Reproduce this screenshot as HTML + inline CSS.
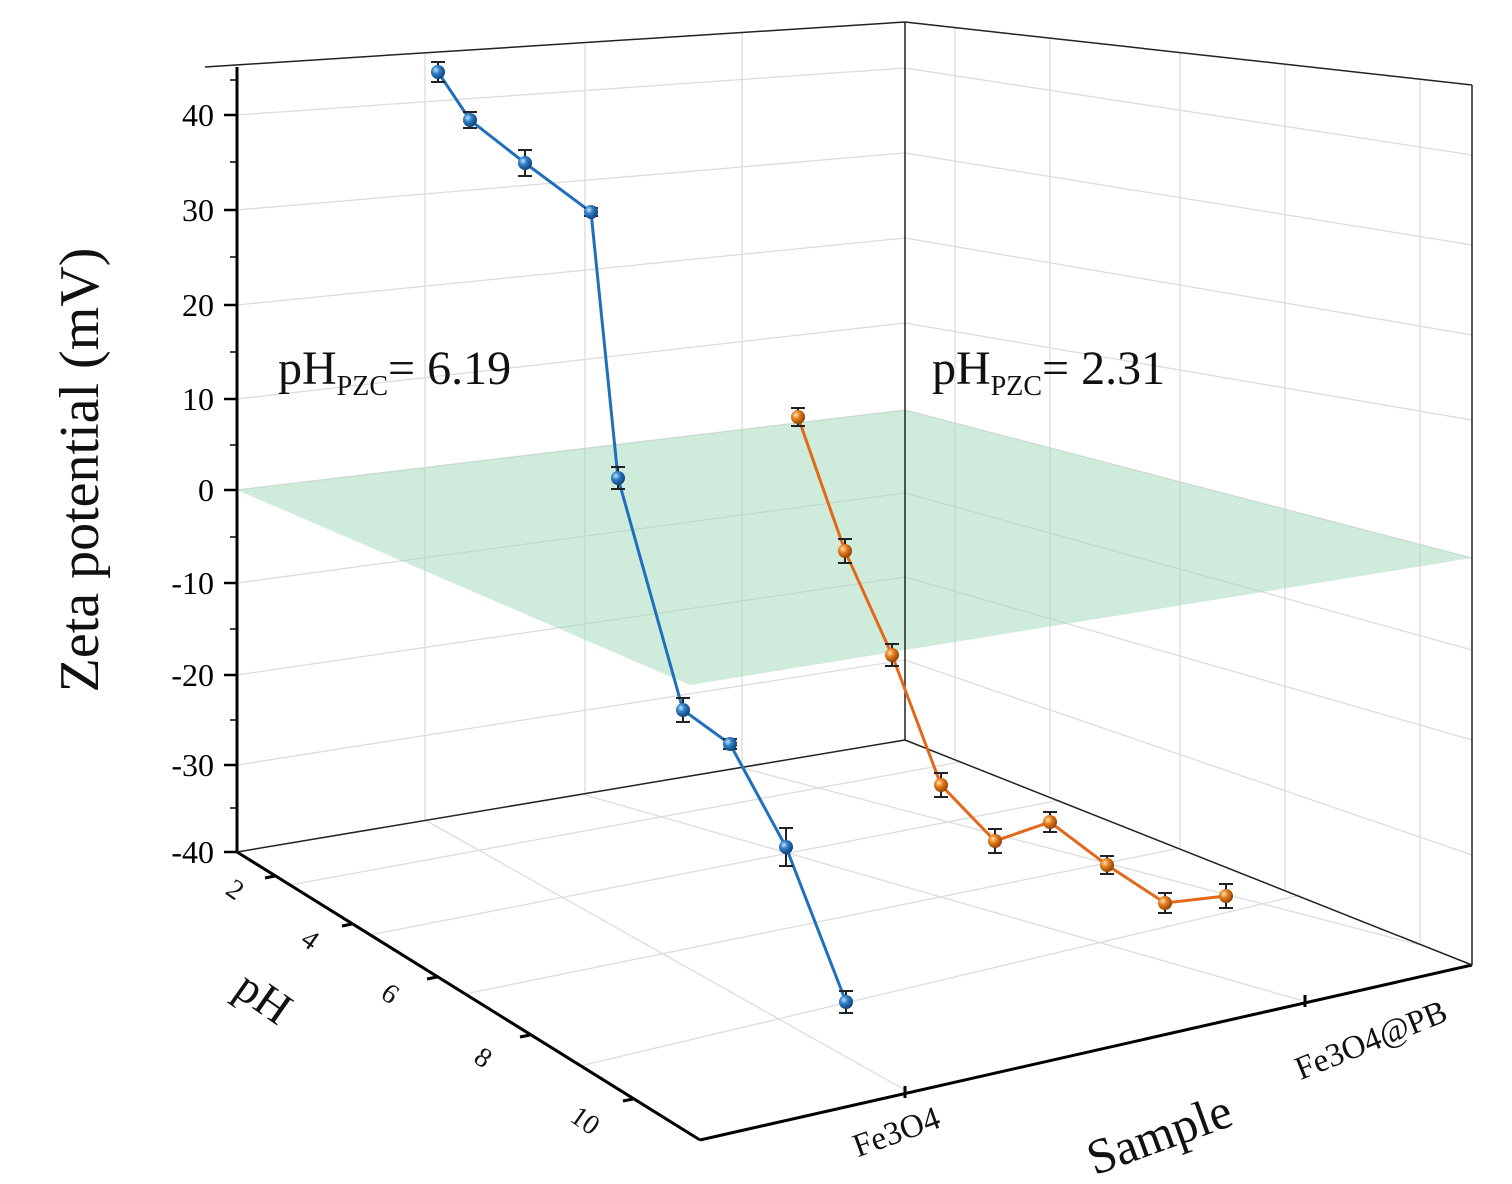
<!DOCTYPE html>
<html><head><meta charset="utf-8"><style>html,body{margin:0;padding:0;background:#fff}svg{display:block}</style></head>
<body>
<svg width="1512" height="1184" viewBox="0 0 1512 1184" xmlns="http://www.w3.org/2000/svg" font-family="Liberation Serif, serif">
<defs>
<radialGradient id="bg" cx="0.35" cy="0.35" r="0.7"><stop offset="0" stop-color="#bfe3ff"/><stop offset="0.4" stop-color="#2f7fc4"/><stop offset="1" stop-color="#0d3f77"/></radialGradient>
<radialGradient id="og" cx="0.35" cy="0.35" r="0.7"><stop offset="0" stop-color="#ffe2b8"/><stop offset="0.4" stop-color="#e8801e"/><stop offset="1" stop-color="#8a3f06"/></radialGradient>
</defs>
<g stroke="#dcdcdc" stroke-width="1.3" fill="none">
<line x1="237" y1="115" x2="905" y2="68"/>
<line x1="237" y1="210" x2="905" y2="153"/>
<line x1="237" y1="305" x2="905" y2="238"/>
<line x1="237" y1="399" x2="905" y2="323"/>
<line x1="237" y1="490" x2="905" y2="410"/>
<line x1="237" y1="583" x2="905" y2="493"/>
<line x1="237" y1="675" x2="905" y2="577"/>
<line x1="237" y1="765" x2="905" y2="660"/>
<line x1="425" y1="54" x2="425" y2="820"/>
<line x1="585" y1="44" x2="585" y2="795"/>
<line x1="742" y1="33" x2="742" y2="768"/>
<line x1="905" y1="68" x2="1472" y2="155"/>
<line x1="905" y1="153" x2="1472" y2="245"/>
<line x1="905" y1="238" x2="1472" y2="335"/>
<line x1="905" y1="323" x2="1472" y2="420"/>
<line x1="905" y1="410" x2="1472" y2="558"/>
<line x1="905" y1="493" x2="1472" y2="650"/>
<line x1="905" y1="577" x2="1472" y2="740"/>
<line x1="905" y1="660" x2="1472" y2="855"/>
<line x1="955" y1="28" x2="955" y2="758"/>
<line x1="1050" y1="38" x2="1050" y2="795"/>
<line x1="1180" y1="52" x2="1180" y2="847"/>
<line x1="1285" y1="63" x2="1285" y2="890"/>
<line x1="1420" y1="78" x2="1420" y2="943"/>
<line x1="290" y1="885" x2="960" y2="762"/>
<line x1="370" y1="935" x2="1060" y2="800"/>
<line x1="465" y1="994" x2="1180" y2="848"/>
<line x1="580" y1="1066" x2="1300" y2="895"/>
<line x1="425" y1="820" x2="905" y2="1090"/>
<line x1="585" y1="795" x2="1300" y2="1000"/>
<line x1="742" y1="768" x2="1420" y2="945"/>
</g>
<polygon points="237,490 905,410 1472,558 690,685" fill="#9fd8b8" fill-opacity="0.5"/>
<g stroke="#000" stroke-width="3" fill="none">
<line x1="237" y1="67" x2="237" y2="853"/>
<line x1="237" y1="852" x2="700" y2="1140"/>
<line x1="700" y1="1140" x2="1472" y2="965"/>
</g>
<g stroke="#222" stroke-width="1.5" fill="none">
<line x1="205" y1="67" x2="905" y2="22"/>
<line x1="905" y1="22" x2="1472" y2="85"/>
<line x1="905" y1="22" x2="905" y2="740"/>
<line x1="1472" y1="85" x2="1472" y2="965"/>
<line x1="237" y1="852" x2="905" y2="740"/>
<line x1="905" y1="740" x2="1472" y2="965"/>
</g>
<g stroke="#000" stroke-width="2.5">
<line x1="224" y1="115" x2="237" y2="115"/><line x1="224" y1="210" x2="237" y2="210"/><line x1="224" y1="305" x2="237" y2="305"/><line x1="224" y1="399" x2="237" y2="399"/><line x1="224" y1="490" x2="237" y2="490"/><line x1="224" y1="583" x2="237" y2="583"/><line x1="224" y1="675" x2="237" y2="675"/><line x1="224" y1="765" x2="237" y2="765"/><line x1="224" y1="852" x2="237" y2="852"/>
</g>
<g stroke="#000" stroke-width="1.5">
<line x1="230" y1="162" x2="237" y2="162"/><line x1="230" y1="257" x2="237" y2="257"/><line x1="230" y1="352" x2="237" y2="352"/><line x1="230" y1="445" x2="237" y2="445"/><line x1="230" y1="537" x2="237" y2="537"/><line x1="230" y1="629" x2="237" y2="629"/><line x1="230" y1="720" x2="237" y2="720"/><line x1="230" y1="808" x2="237" y2="808"/><line x1="230" y1="80" x2="237" y2="80"/>
</g>
<g font-size="32" text-anchor="end" fill="#000">
<text x="214" y="126">40</text><text x="214" y="221">30</text><text x="214" y="316">20</text><text x="214" y="410">10</text><text x="214" y="501">0</text><text x="214" y="594">-10</text><text x="214" y="686">-20</text><text x="214" y="776">-30</text><text x="214" y="863">-40</text>
</g>
<text transform="translate(98,470) rotate(-90)" font-size="56" text-anchor="middle" fill="#111">Zeta potential (mV)</text>
<g stroke="#000" stroke-width="3">
<line x1="275" y1="876" x2="265" y2="878"/><line x1="352" y1="924" x2="342" y2="926"/><line x1="437" y1="977" x2="427" y2="979"/><line x1="530" y1="1035" x2="520" y2="1037"/><line x1="633" y1="1099" x2="623" y2="1101"/>
<line x1="905" y1="1086" x2="905" y2="1098"/><line x1="1305" y1="995" x2="1305" y2="1007"/>
</g>
<g font-size="28" fill="#111" text-anchor="middle">
<text transform="translate(230,897) rotate(35)">2</text>
<text transform="translate(305,947) rotate(35)">4</text>
<text transform="translate(385,1001) rotate(35)">6</text>
<text transform="translate(478,1065) rotate(35)">8</text>
<text transform="translate(580,1128) rotate(35)">10</text>
</g>
<text transform="translate(255,1010) rotate(35)" font-size="46" text-anchor="middle" fill="#111">pH</text>
<g font-size="33" fill="#111" text-anchor="middle">
<text transform="translate(900,1142) rotate(-20)">Fe3O4</text>
<text transform="translate(1375,1050) rotate(-22)">Fe3O4@PB</text>
</g>
<text transform="translate(1165,1150) rotate(-20)" font-size="50" text-anchor="middle" fill="#111">Sample</text>
<text x="278" y="384" font-size="48" fill="#111">pH<tspan font-size="28" dy="11">PZC</tspan><tspan dy="-11">= 6.19</tspan></text>
<text x="932" y="384" font-size="48" fill="#111">pH<tspan font-size="28" dy="11">PZC</tspan><tspan dy="-11">= 2.31</tspan></text>
<polyline points="438,72 470,120 525,163 591,212 618,478 683,710 730,744 786,847 846,1002" fill="none" stroke="#1f6fbd" stroke-width="3"/>
<g stroke="#222" stroke-width="2" fill="none">
<path d="M438,62V82M431,62H445M431,82H445"/>
<path d="M470,112V128M463,112H477M463,128H477"/>
<path d="M525,150V176M518,150H532M518,176H532"/>
<path d="M591,208V216M584,208H598M584,216H598"/>
<path d="M618,467V489M611,467H625M611,489H625"/>
<path d="M683,698V722M676,698H690M676,722H690"/>
<path d="M730,739V749M723,739H737M723,749H737"/>
<path d="M786,828V866M779,828H793M779,866H793"/>
<path d="M846,991V1013M839,991H853M839,1013H853"/>
</g>
<g fill="url(#bg)">
<circle cx="438" cy="72" r="7"/><circle cx="470" cy="120" r="7"/><circle cx="525" cy="163" r="7"/><circle cx="591" cy="212" r="7"/><circle cx="618" cy="478" r="7"/><circle cx="683" cy="710" r="7"/><circle cx="730" cy="744" r="7"/><circle cx="786" cy="847" r="7"/><circle cx="846" cy="1002" r="7"/>
</g>
<polyline points="798,417 845,551 892,655 941,785 995,841 1050,822 1107,865 1165,903 1226,896" fill="none" stroke="#e2681a" stroke-width="3"/>
<g stroke="#222" stroke-width="2" fill="none">
<path d="M798,408V426M791,408H805M791,426H805"/>
<path d="M845,539V563M838,539H852M838,563H852"/>
<path d="M892,644V666M885,644H899M885,666H899"/>
<path d="M941,773V797M934,773H948M934,797H948"/>
<path d="M995,829V853M988,829H1002M988,853H1002"/>
<path d="M1050,812V832M1043,812H1057M1043,832H1057"/>
<path d="M1107,856V874M1100,856H1114M1100,874H1114"/>
<path d="M1165,893V913M1158,893H1172M1158,913H1172"/>
<path d="M1226,884V908M1219,884H1233M1219,908H1233"/>
</g>
<g fill="url(#og)">
<circle cx="798" cy="417" r="7"/><circle cx="845" cy="551" r="7"/><circle cx="892" cy="655" r="7"/><circle cx="941" cy="785" r="7"/><circle cx="995" cy="841" r="7"/><circle cx="1050" cy="822" r="7"/><circle cx="1107" cy="865" r="7"/><circle cx="1165" cy="903" r="7"/><circle cx="1226" cy="896" r="7"/>
</g>
</svg>
</body></html>
